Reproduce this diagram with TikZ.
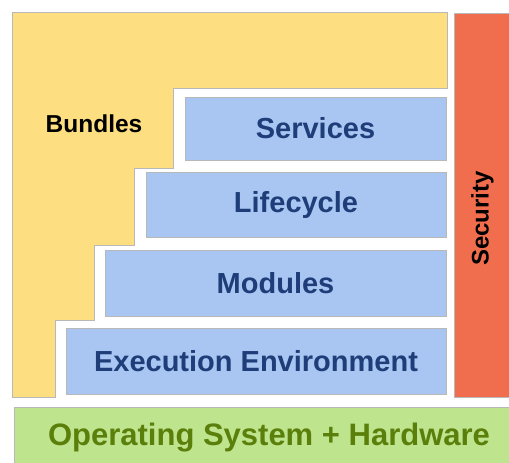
\documentclass[tikz,border=0pt]{standalone}
\usepackage{fontspec}
\setmainfont{Liberation Sans}
\definecolor{bundlefill}{HTML}{FDDE80}
\definecolor{layerfill}{HTML}{A9C6F2}
\definecolor{layertext}{HTML}{1F3D78}
\definecolor{secfill}{HTML}{F06E4E}
\definecolor{osfill}{HTML}{BFE48E}
\definecolor{ostext}{HTML}{5A7F0A}
\definecolor{edge}{HTML}{B8B8B8}
\tikzset{
  layer/.style={draw=edge, line width=0.8pt, fill=layerfill, rectangle, inner sep=0pt, outer sep=0pt,
    anchor=north west, text=layertext, font=\fontsize{29}{31}\selectfont\bfseries},
}
\begin{document}
\begin{tikzpicture}[x=1pt, y=-1pt]
\useasboundingbox (0,0) rectangle (509,463);
\clip (0,0) rectangle (509,463);
% Bundles
\draw[draw=edge, line width=0.8pt, fill=bundlefill]
  (12.5,12.5) -- (447,12.5) -- (447,88) -- (173,88) -- (173,168) -- (134,168) -- (134,245)
  -- (94,245) -- (94,320) -- (55,320) -- (55,397) -- (12.5,397) -- cycle;
\node[font=\fontsize{24.5}{26}\selectfont\bfseries, text=black] (bundles) at (94,124) {Bundles};
% layers
\node[layer, minimum width=261pt, minimum height=63pt] (services) at (185,97) {Services};
\node[layer, minimum width=300pt, minimum height=65pt] (lifecycle) at (146,172) {Lifecycle};
\node[layer, minimum width=341pt, minimum height=66pt] (modules) at (105,250) {Modules};
\node[layer, minimum width=380pt, minimum height=66pt] (exec) at (66,328) {Execution Environment};
% Security
\node[draw=edge, line width=0.8pt, fill=secfill, rectangle, inner sep=0pt, outer sep=0pt, anchor=north west,
  minimum width=60pt, minimum height=384pt] (secbox) at (454,13) {};
\node[rotate=90, font=\fontsize{24}{26}\selectfont\bfseries, text=black] (security) at (482.5,218.5) {Security};
% OS
\node[draw=edge, line width=0.8pt, fill=osfill, rectangle, inner sep=0pt, outer sep=0pt, anchor=north west,
  minimum width=510pt, minimum height=60pt] (osbox) at (14,407.5) {};
\node[font=\fontsize{31}{33}\selectfont\bfseries, text=ostext] (os) at (269,438) {Operating System + Hardware};
\end{tikzpicture}
\end{document}
